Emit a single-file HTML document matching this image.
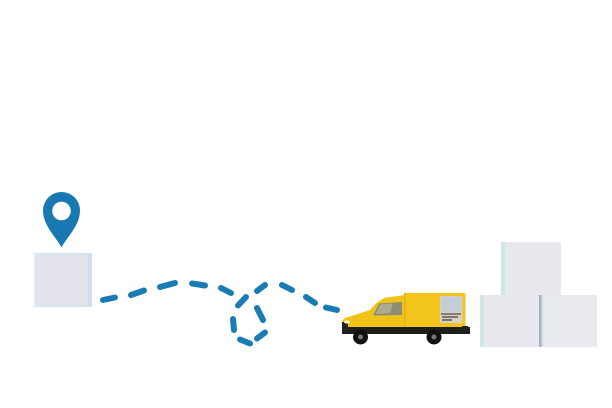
<!DOCTYPE html>
<html><head><meta charset="utf-8"><style>
html,body{margin:0;padding:0;background:#fff;}
svg{display:block;}
</style></head><body>
<svg width="612" height="408" viewBox="0 0 612 408" xmlns="http://www.w3.org/2000/svg">
<rect width="612" height="408" fill="#ffffff"/>
<!-- pin -->
<path d="M61.5,247.5 C57,238 43,226 43,210.5 A18.5,18.5 0 0 1 80,210.5 C80,226 66,238 61.5,247.5 Z" fill="#1878b2"/>
<circle cx="61.5" cy="211" r="9.3" fill="#ffffff"/>
<!-- left box -->
<rect x="35" y="253.5" width="56.5" height="53" fill="#e3e3ec" stroke="#d2e6ec" stroke-width="1"/>
<rect x="87.5" y="254" width="4" height="52" fill="#cfe0ea"/>
<!-- dashes -->
<g stroke="#1a7cb4" stroke-width="6" stroke-linecap="round" fill="none">
<line x1="103" y1="300" x2="115" y2="297.5"/>
<line x1="131" y1="295" x2="144" y2="290.5"/>
<line x1="160" y1="287" x2="175" y2="283"/>
<line x1="192" y1="283.5" x2="205" y2="285.5"/>
<line x1="221" y1="288" x2="231" y2="293"/>
<line x1="238" y1="305.5" x2="246" y2="297"/>
<line x1="257" y1="291" x2="265" y2="285"/>
<line x1="282" y1="285" x2="292" y2="290"/>
<line x1="306" y1="297" x2="315" y2="303"/>
<line x1="326" y1="307.5" x2="337" y2="310"/>
<line x1="257" y1="308" x2="263" y2="320"/>
<line x1="233" y1="319" x2="234" y2="330"/>
<line x1="240" y1="339.5" x2="250" y2="343.5"/>
<line x1="257" y1="338.5" x2="265" y2="332.5"/>
</g>
<!-- van -->
<g>
<path d="M342,323 Q342,318 350,316.5 L370,310 Q378,300 386,297.5 L405,295 L405,329 L342,329 Z" fill="#f1c21a"/>
<rect x="404" y="293" width="61.5" height="36" fill="#f3c51c"/>
<line x1="405" y1="293" x2="405" y2="329" stroke="#d9a90e" stroke-width="1"/>
<path d="M373,315.5 L379,303.5 L402,302 L402,315 Z" fill="#8e8d70"/>
<path d="M380,304.5 L393,303.5 L390,313 L376,314 Z" fill="#b9b8a0" opacity="0.7"/>
<path d="M342,327 L470,327 L470,334 L342,334 Z" fill="#1e1e1a"/>
<rect x="342" y="322" width="6" height="11" fill="#222"/>
<ellipse cx="347" cy="322" rx="3" ry="1.6" fill="#fff7c8"/>
<rect x="440" y="296" width="22.5" height="27" fill="#d6d3c4"/>
<rect x="441" y="297" width="20.5" height="15" fill="#c5ced6"/>
<g stroke="#2a2a2a" stroke-width="1.1">
<line x1="441" y1="314" x2="461" y2="314"/>
<line x1="442" y1="317" x2="458" y2="317"/>
<line x1="442" y1="320" x2="452" y2="320"/>
</g>
<circle cx="360.5" cy="337" r="7.5" fill="#111"/>
<circle cx="360.5" cy="337" r="2.5" fill="#777"/>
<circle cx="434" cy="337" r="7.5" fill="#111"/>
<circle cx="434" cy="337" r="2.5" fill="#777"/>
<rect x="462" y="326" width="6" height="5" fill="#222"/>
</g>
<!-- right boxes -->
<rect x="501" y="242" width="60" height="53" fill="#e8e8ef"/>
<rect x="501" y="242" width="4" height="53" fill="#cde6e6"/>
<rect x="480" y="295" width="60" height="52" fill="#e8e8ef"/>
<rect x="480" y="295" width="4" height="52" fill="#cde6e6"/>
<rect x="541" y="295" width="56" height="52" fill="#e9e9f0"/>
<rect x="539" y="295" width="2.5" height="52" fill="#a8b0b8"/>
<rect x="541.5" y="295" width="2" height="52" fill="#d2e4e8"/>
</svg>
</body></html>
